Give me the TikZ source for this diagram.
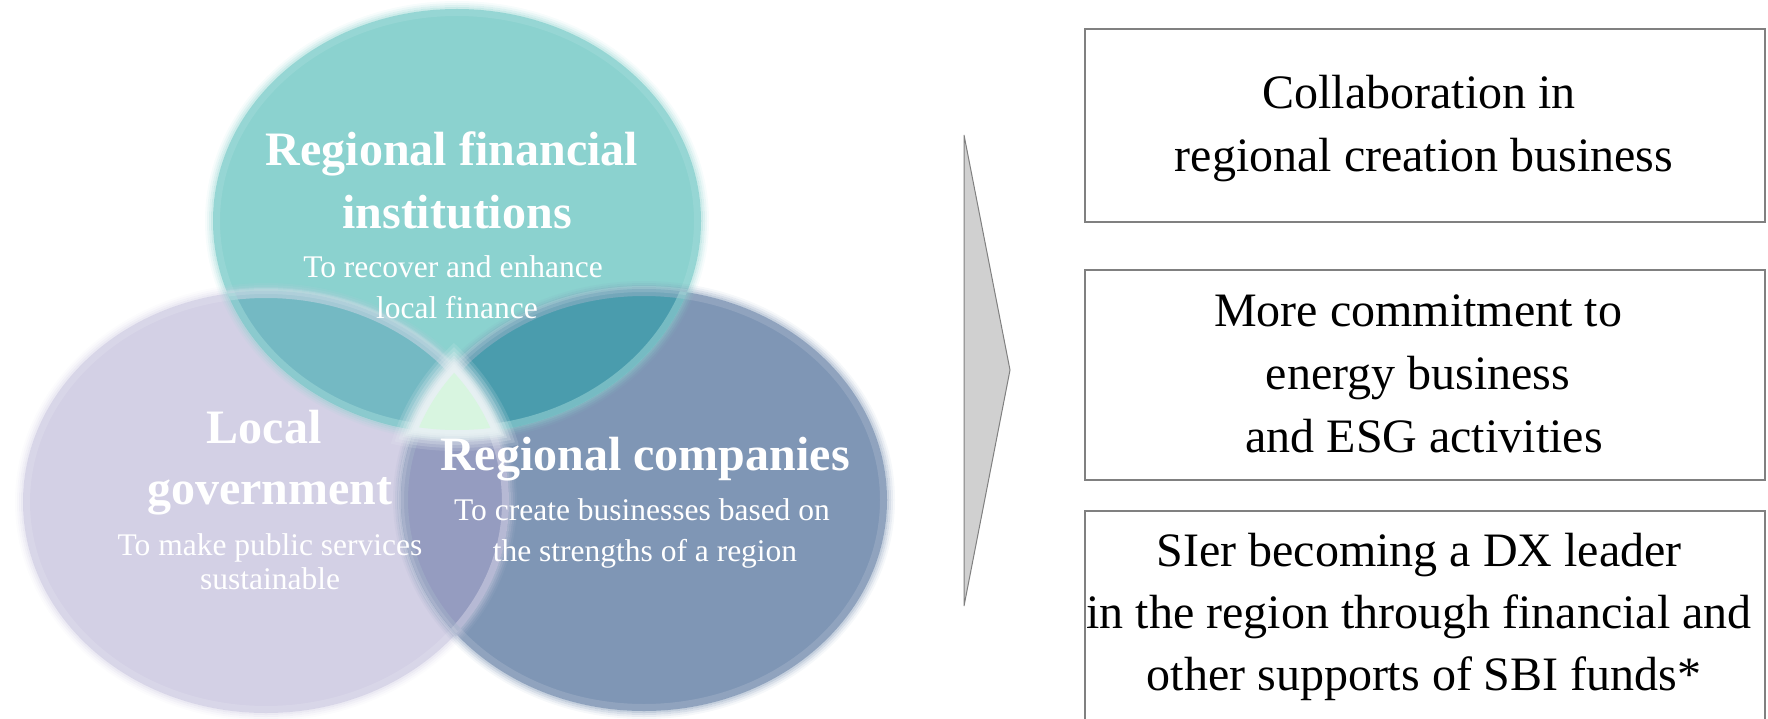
\documentclass[tikz,border=0pt]{standalone}
\usepackage{fontspec}
\setmainfont{Liberation Serif}
\definecolor{cteal}{HTML}{8BD2CF}
\definecolor{clav}{HTML}{D3D0E5}
\definecolor{cslate}{HTML}{7F96B5}
\definecolor{cTL}{HTML}{74B9C3}
\definecolor{cTR}{HTML}{4A9CAD}
\definecolor{cLR}{HTML}{959CC0}
\definecolor{cmid}{HTML}{D8F5E0}
\definecolor{chalo}{HTML}{E8F1F3}
\definecolor{cchev}{HTML}{D0D0D0}
\definecolor{cline}{HTML}{808080}
\begin{document}
\begin{tikzpicture}[x=1pt,y=-1pt,
  head/.style={font=\fontsize{48}{60}\selectfont\bfseries, text=white, anchor=base, inner sep=0pt},
  sub/.style={font=\fontsize{31.5}{40}\selectfont, text=white, anchor=base, inner sep=0pt},
  btxt/.style={font=\fontsize{48}{60}\selectfont\rmfamily, text=black, anchor=base, inner sep=0pt},
  outbox/.style={draw=cline, line width=1.3pt, minimum width=680pt, inner sep=0pt},
  seam/.style={draw=white, line width=6pt, opacity=0.12}]
\useasboundingbox (0,0) rectangle (1768,719);
% geometry
\def\Tx{457}\def\Ty{221}\def\Trx{244}\def\Try{212}
\def\Lx{266}\def\Ly{502}\def\Lrx{243}\def\Lry{211}
\def\Rx{644}\def\Ry{500}\def\Rrx{243}\def\Rry{211}
% base circles
\fill[clav] (\Lx,\Ly) ellipse [x radius=\Lrx, y radius=\Lry];
\fill[cslate] (\Rx,\Ry) ellipse [x radius=\Rrx, y radius=\Rry];
\fill[cteal] (\Tx,\Ty) ellipse [x radius=\Trx, y radius=\Try];
% pair overlaps
\begin{scope}
  \clip (\Lx,\Ly) ellipse [x radius=\Lrx, y radius=\Lry];
  \fill[cLR] (\Rx,\Ry) ellipse [x radius=\Rrx, y radius=\Rry];
\end{scope}
\begin{scope}
  \clip (\Tx,\Ty) ellipse [x radius=\Trx, y radius=\Try];
  \fill[cTL] (\Lx,\Ly) ellipse [x radius=\Lrx, y radius=\Lry];
  \fill[cTR] (\Rx,\Ry) ellipse [x radius=\Rrx, y radius=\Rry];
\end{scope}
% soft rims: lighter inner band and fading outer edge
\draw[draw=clav!70!white, opacity=0.45, line width=7pt] (\Lx,\Ly) ellipse [x radius=\Lrx-3.5, y radius=\Lry-3.5];
\draw[draw=cslate!70!white, opacity=0.45, line width=7pt] (\Rx,\Ry) ellipse [x radius=\Rrx-3.5, y radius=\Rry-3.5];
\draw[draw=cteal!80!white, opacity=0.5, line width=7pt] (\Tx,\Ty) ellipse [x radius=\Trx-3.5, y radius=\Try-3.5];
\foreach \k/\o in {1/0.45,3/0.3,5/0.17,7/0.07}{
  \draw[draw=clav, opacity=\o, line width=2pt] (\Lx,\Ly) ellipse [x radius=\Lrx+\k, y radius=\Lry+\k];
  \draw[draw=cslate, opacity=\o, line width=2pt] (\Rx,\Ry) ellipse [x radius=\Rrx+\k, y radius=\Rry+\k];
  \draw[draw=cteal, opacity=\o, line width=2pt] (\Tx,\Ty) ellipse [x radius=\Trx+\k, y radius=\Try+\k];
}
% faint seams inside overlaps
\begin{scope}
  \clip (\Tx,\Ty) ellipse [x radius=\Trx, y radius=\Try];
  \draw[seam] (\Lx,\Ly) ellipse [x radius=\Lrx, y radius=\Lry];
  \draw[seam] (\Rx,\Ry) ellipse [x radius=\Rrx, y radius=\Rry];
\end{scope}
\begin{scope}
  \clip (\Lx,\Ly) ellipse [x radius=\Lrx, y radius=\Lry];
  \draw[seam] (\Rx,\Ry) ellipse [x radius=\Rrx, y radius=\Rry];
\end{scope}
% soft halo round the centre
\foreach \k/\o in {18/0.15,15/0.2,12/0.25,9/0.3,7/0.4,5/0.5,3/0.6,1/0.7}{
  \begin{scope}
    \clip (\Tx,\Ty) ellipse [x radius=\Trx+\k, y radius=\Try+\k];
    \clip (\Lx,\Ly) ellipse [x radius=\Lrx+\k, y radius=\Lry+\k];
    \fill[chalo, opacity=\o] (\Rx,\Ry) ellipse [x radius=\Rrx+\k, y radius=\Rry+\k];
  \end{scope}
}
\begin{scope}
  \clip (\Tx,\Ty) ellipse [x radius=\Trx-3, y radius=\Try-3];
  \clip (\Lx,\Ly) ellipse [x radius=\Lrx-3, y radius=\Lry-3];
  \fill[cmid] (\Rx,\Ry) ellipse [x radius=\Rrx-3, y radius=\Rry-3];
\end{scope}
% circle texts
\node[head] (t1) at (452,166) {Regional financial};
\node[head] (t2) at (457,229) {institutions};
\node[sub] (t3) at (453,277) {To recover and enhance};
\node[sub] (t4) at (457,318) {local finance};
\node[head] (l1) at (264,443) {Local};
\node[head] (l2) at (270,504) {government};
\node[sub] (l3) at (270,555) {To make public services};
\node[sub] (l4) at (270,589) {sustainable};
\node[head] (r1) at (645,470) {Regional companies};
\node[sub] (r2) at (642,520) {To create businesses based on};
\node[sub] (r3) at (645,561) {the strengths of a region};
% chevron
\coordinate (ch1) at (964,135);
\coordinate (chtip) at (1010,370);
\coordinate (ch2) at (964,606);
\draw[fill=cchev, draw=cline, line width=1pt] (ch1) -- (chtip) -- (ch2) -- cycle;
% boxes
\node[outbox, minimum height=193pt] (box1) at (1425,125.5) {};
\node[outbox, minimum height=210pt] (box2) at (1425,375) {};
\node[outbox, minimum height=220pt] (box3) at (1425,621) {};
\node[btxt] (b1a) at (1419,109) {Collaboration in};
\node[btxt] (b1b) at (1424,172) {regional creation business};
\node[btxt] (b2a) at (1418,326) {More commitment to};
\node[btxt] (b2b) at (1418,389) {energy business};
\node[btxt] (b2c) at (1424,452) {and ESG activities};
\node[btxt] (b3a) at (1419,566) {SIer becoming a DX leader};
\node[btxt] (b3b) at (1419,628) {in the region through financial and};
\node[btxt] (b3c) at (1424,690) {other supports of SBI funds*};
\end{tikzpicture}
\end{document}
